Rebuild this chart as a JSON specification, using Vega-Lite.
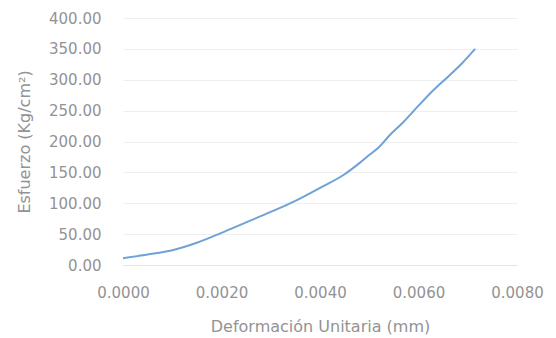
{
  "$schema": "https://vega.github.io/schema/vega-lite/v6.json",
  "width": 394,
  "height": 247,
  "autosize": "none",
  "padding": {"left": 123, "top": 18, "right": 39, "bottom": 73},
  "background": "white",
  "config": {"view": {"stroke": null}},
  "data": {"values": [
    {"def": 0.0000, "esf": 11},
    {"def": 0.0005, "esf": 17},
    {"def": 0.0010, "esf": 24},
    {"def": 0.0015, "esf": 36},
    {"def": 0.0020, "esf": 52},
    {"def": 0.0025, "esf": 69},
    {"def": 0.0030, "esf": 86},
    {"def": 0.0035, "esf": 104},
    {"def": 0.0040, "esf": 125},
    {"def": 0.0045, "esf": 147},
    {"def": 0.0048, "esf": 165},
    {"def": 0.0050, "esf": 178},
    {"def": 0.0052, "esf": 191},
    {"def": 0.0054, "esf": 209},
    {"def": 0.0057, "esf": 232},
    {"def": 0.0060, "esf": 258},
    {"def": 0.0063, "esf": 283},
    {"def": 0.0066, "esf": 305},
    {"def": 0.0069, "esf": 328},
    {"def": 0.00715, "esf": 350}
  ]},
  "mark": {"type": "line", "color": "#6fa2d6", "strokeWidth": 2, "interpolate": "monotone"},
  "encoding": {
    "x": {
      "field": "def", "type": "quantitative",
      "scale": {"domain": [0, 0.008], "nice": false, "zero": false},
      "axis": {
        "title": "Deformación Unitaria (mm)",
        "values": [0, 0.002, 0.004, 0.006, 0.008],
        "format": ".4f",
        "grid": false,
        "ticks": false,
        "domain": true, "domainColor": "#e3e3e3", "domainWidth": 1,
        "labelFont": "DejaVu Sans", "labelFontSize": 15, "labelColor": "#939393",
        "labelPadding": 20, "labelFlush": false,
        "titleFont": "DejaVu Sans", "titleFontSize": 16, "titleFontWeight": "normal",
        "titleColor": "#939393", "titlePadding": 18
      }
    },
    "y": {
      "field": "esf", "type": "quantitative",
      "scale": {"domain": [0, 400], "nice": false},
      "axis": {
        "title": "Esfuerzo (Kg/cm²)",
        "values": [0, 50, 100, 150, 200, 250, 300, 350, 400],
        "format": ".2f",
        "grid": true, "gridColor": "#efefef", "gridWidth": 1,
        "ticks": false,
        "domain": false,
        "labelFont": "DejaVu Sans", "labelFontSize": 15, "labelColor": "#939393",
        "labelPadding": 22, "labelFlush": false,
        "titleFont": "DejaVu Sans", "titleFontSize": 16, "titleFontWeight": "normal",
        "titleColor": "#939393", "titlePadding": 16
      }
    }
  }
}
